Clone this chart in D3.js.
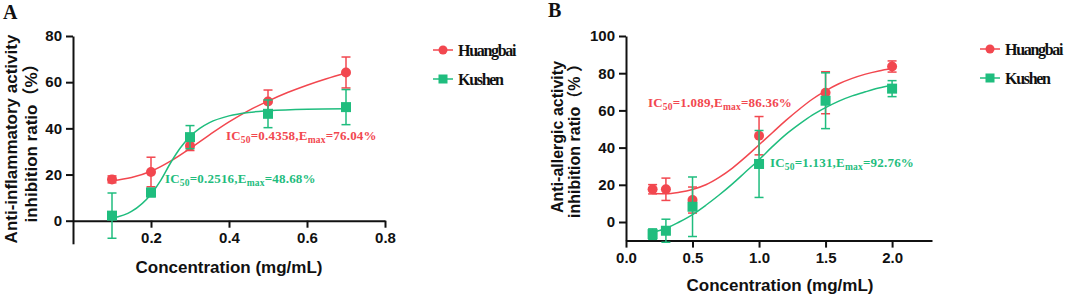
<!DOCTYPE html>
<html>
<head>
<meta charset="utf-8">
<script src="https://cdn.jsdelivr.net/npm/d3@7"></script>
<style>
  body { margin: 0; background: #fff; }
  svg { display: block; }
  .tick text { font-family: "Liberation Sans", Arial, sans-serif; font-weight: bold; font-size: 15px; fill: #111; }
</style>
</head>
<body>
<div id="chart"></div>
<script>
const width = 1065, height = 297;
const RED = "#f2474f", GREEN = "#1fbd7e";

// Panel A: anti-inflammatory
const concA = [0.1, 0.2, 0.3, 0.5, 0.7];
const huangbaiA = [17.9, 21.1, 32.4, 51.6, 64.2];
const huangbaiAErr = [1.5, 6.4, 2, 5, 6.7];
const kushenA = [2.2, 12.2, 36.2, 46.3, 49.2];
const kushenAErr = [9.8, 1.8, 5, 6, 7.6];
// fitted curves
const fitAx = [0.1, 0.15, 0.2, 0.25, 0.3, 0.35, 0.4, 0.45, 0.5, 0.55, 0.6, 0.65, 0.7];
const fitAHuangbai = [17.3, 18.7, 21.4, 25.8, 31.3, 37.2, 42.8, 47.7, 51.8, 55.5, 58.7, 61.5, 64];
const fitAxK = [0.1, 0.15, 0.2, 0.225, 0.25, 0.275, 0.3, 0.325, 0.35, 0.4, 0.45, 0.5, 0.6, 0.7];
const fitAKushen = [1, 4, 11.5, 17.5, 25, 31.5, 36.5, 40, 42.5, 45.4, 46.9, 47.6, 48.3, 48.5];
const ticksAx = [0.2, 0.4, 0.6, 0.8];
const ticksAy = [0, 20, 40, 60, 80];

// Panel B: anti-allergic
const concB = [0.2, 0.3, 0.5, 1.0, 1.5, 2.0];
const huangbaiB = [17.6, 17.6, 11.8, 46.4, 69.5, 83.6];
const huangbaiBErr = [2.5, 6, 7, 10.3, 11.3, 3];
const kushenB = [-6.5, -4.7, 8.2, 31.2, 65.2, 71.7];
const kushenBErr = [2.8, 6.2, 16, 18, 15, 4.3];
const fitBx = [0.2, 0.3, 0.4, 0.5, 0.6, 0.7, 0.8, 0.9, 1.0, 1.1, 1.2, 1.3, 1.4, 1.5, 1.6, 1.7, 1.8, 1.9, 2.0];
const fitBHuangbai = [15.3, 15.2, 16, 17.5, 20, 24, 29, 35, 41.5, 48, 54.5, 60.5, 66, 70.5, 74.3, 77.2, 79.5, 81.2, 82.5];
const fitBKushen = [-5.5, -3.5, 0, 4, 9, 14.5, 20.5, 27, 33.5, 40.5, 47, 52.5, 57.5, 61.5, 65, 67.8, 70, 72, 73.5];
const ticksBx = [0, 0.5, 1.0, 1.5, 2.0];
const ticksBy = [0, 20, 40, 60, 80, 100];

const seriesNames = ["Huangbai", "Kushen"];

const svg = d3.select("#chart").append("svg")
  .attr("width", width).attr("height", height);

const drawPanel = (cfg) => {
  const g = svg.append("g");
  const x = d3.scaleLinear().domain(cfg.xDomain).range(cfg.xRange);
  const y = d3.scaleLinear().domain(cfg.yDomain).range(cfg.yRange);

  // y axis
  const yAxis = d3.axisLeft(y).tickValues(cfg.yTicks).tickSize(7).tickPadding(4).tickSizeOuter(0);
  const ya = g.append("g").attr("transform", `translate(${cfg.xRange[0]},0)`).call(yAxis);
  // x axis
  const xAxis = d3.axisBottom(x).tickValues(cfg.xTicks).tickSize(7).tickPadding(5)
    .tickFormat(cfg.xFormat).tickSizeOuter(0);
  const xa = g.append("g").attr("transform", `translate(0,${y(cfg.xAxisAt)})`).call(xAxis);
  [ya, xa].forEach(a => {
    a.selectAll("path.domain, line").attr("stroke", "#111").attr("stroke-width", 2);
  });

  const line = d3.line().x(d => x(d[0])).y(d => y(d[1])).curve(d3.curveMonotoneX);

  cfg.series.forEach(s => {
    g.append("path")
      .attr("d", line(d3.zip(s.fitX, s.fitY)))
      .attr("fill", "none").attr("stroke", s.color).attr("stroke-width", 1.5);

    const pts = g.append("g");
    s.xs.forEach((xv, i) => {
      const cx = x(xv), top = y(s.ys[i] + s.err[i]), bot = y(s.ys[i] - s.err[i]);
      pts.append("line").attr("x1", cx).attr("x2", cx).attr("y1", top).attr("y2", bot)
        .attr("stroke", s.color).attr("stroke-width", 1.5);
      [top, bot].forEach(yy => pts.append("line")
        .attr("x1", cx - 4.5).attr("x2", cx + 4.5).attr("y1", yy).attr("y2", yy)
        .attr("stroke", s.color).attr("stroke-width", 1.5));
    });
    s.xs.forEach((xv, i) => {
      if (s.shape === "circle") {
        pts.append("circle").attr("cx", x(xv)).attr("cy", y(s.ys[i])).attr("r", 5).attr("fill", s.color);
      } else {
        pts.append("rect").attr("x", x(xv) - 5).attr("y", y(s.ys[i]) - 5)
          .attr("width", 10).attr("height", 10).attr("fill", s.color);
      }
    });

    // annotation
    const t = g.append("text").attr("x", s.labelPos[0]).attr("y", s.labelPos[1])
      .attr("fill", s.color)
      .style("font-family", "'Liberation Serif', 'Times New Roman', serif")
      .style("font-weight", "bold").style("font-size", "13px").style("letter-spacing", "0.2px");
    t.append("tspan").text("IC");
    t.append("tspan").attr("dy", 3).style("font-size", "9.5px").text("50");
    t.append("tspan").attr("dy", -3).text(`=${s.ic50},E`);
    t.append("tspan").attr("dy", 3).style("font-size", "9.5px").text("max");
    t.append("tspan").attr("dy", -3).text(`=${s.emax}%`);
  });

  // legend
  cfg.series.forEach((s, i) => {
    const ly = cfg.legendY + i * 29;
    const lx = cfg.legendX;
    g.append("line").attr("x1", lx).attr("x2", lx + 20).attr("y1", ly).attr("y2", ly)
      .attr("stroke", s.color).attr("stroke-width", 1.5);
    if (s.shape === "circle") {
      g.append("circle").attr("cx", lx + 10).attr("cy", ly).attr("r", 4.5).attr("fill", s.color);
    } else {
      g.append("rect").attr("x", lx + 5.5).attr("y", ly - 4.5).attr("width", 9).attr("height", 9).attr("fill", s.color);
    }
    g.append("text").attr("x", lx + 25).attr("y", ly + 5.5)
      .style("font-family", "'Liberation Serif', 'Times New Roman', serif")
      .style("font-weight", "bold").style("font-size", "16px").style("letter-spacing", "-1.3px")
      .attr("fill", "#111").text(seriesNames[i]);
  });

  // x title
  g.append("text").attr("x", cfg.xTitlePos[0]).attr("y", cfg.xTitlePos[1]).attr("text-anchor", "middle")
    .style("font-family", "'Liberation Sans', Arial, sans-serif").style("font-weight", "bold")
    .style("font-size", "17px").attr("fill", "#111").text("Concentration (mg/mL)");

  // y title (two lines)
  cfg.yTitle.forEach((txt, i) => {
    g.append("text")
      .attr("transform", `translate(${cfg.yTitleX[i]},${cfg.yTitleY}) rotate(-90)`)
      .attr("text-anchor", "middle")
      .style("font-family", "'Liberation Sans', Arial, 'Noto Sans CJK SC', sans-serif").style("font-weight", "bold")
      .style("font-size", cfg.yTitleSize).attr("fill", "#111").text(txt);
  });

  // panel letter
  g.append("text").attr("x", cfg.letterPos[0]).attr("y", cfg.letterPos[1])
    .style("font-family", "'Liberation Serif', 'Times New Roman', serif").style("font-weight", "bold")
    .style("font-size", "20px").attr("fill", "#111").text(cfg.letter);
};

drawPanel({
  letter: "A", letterPos: [3, 19],
  xDomain: [0, 0.8], xRange: [73, 385],
  yDomain: [-10, 80], yRange: [243.8, 36],
  xTicks: ticksAx, yTicks: ticksAy, xFormat: d3.format(".1f"), xAxisAt: 0,
  xTitlePos: [229, 273],
  yTitle: ["Anti-inflammatory activity", "inhibition ratio（%）"],
  yTitleX: [17, 37], yTitleY: 139, yTitleSize: "17px",
  legendX: 433, legendY: 50,
  series: [
    { xs: concA, ys: huangbaiA, err: huangbaiAErr, fitX: fitAx, fitY: fitAHuangbai, color: RED, shape: "circle",
      ic50: "0.4358", emax: "76.04", labelPos: [226, 140] },
    { xs: concA, ys: kushenA, err: kushenAErr, fitX: fitAxK, fitY: fitAKushen, color: GREEN, shape: "square",
      ic50: "0.2516", emax: "48.68", labelPos: [165, 183] }
  ]
});

drawPanel({
  letter: "B", letterPos: [548, 17],
  xDomain: [0, 2.3], xRange: [626, 932],
  yDomain: [-10, 100], yRange: [240.6, 36],
  xTicks: ticksBx, yTicks: ticksBy, xFormat: d3.format(".1f"), xAxisAt: -10,
  xTitlePos: [780, 291],
  yTitle: ["Anti-allergic activity", "inhibition ratio（%  ）"],
  yTitleX: [563, 580], yTitleY: 137, yTitleSize: "16px",
  legendX: 980, legendY: 49,
  series: [
    { xs: concB, ys: huangbaiB, err: huangbaiBErr, fitX: fitBx, fitY: fitBHuangbai, color: RED, shape: "circle",
      ic50: "1.089", emax: "86.36", labelPos: [648, 107] },
    { xs: concB, ys: kushenB, err: kushenBErr, fitX: fitBx, fitY: fitBKushen, color: GREEN, shape: "square",
      ic50: "1.131", emax: "92.76", labelPos: [770, 167] }
  ]
});
</script>
</body>
</html>
